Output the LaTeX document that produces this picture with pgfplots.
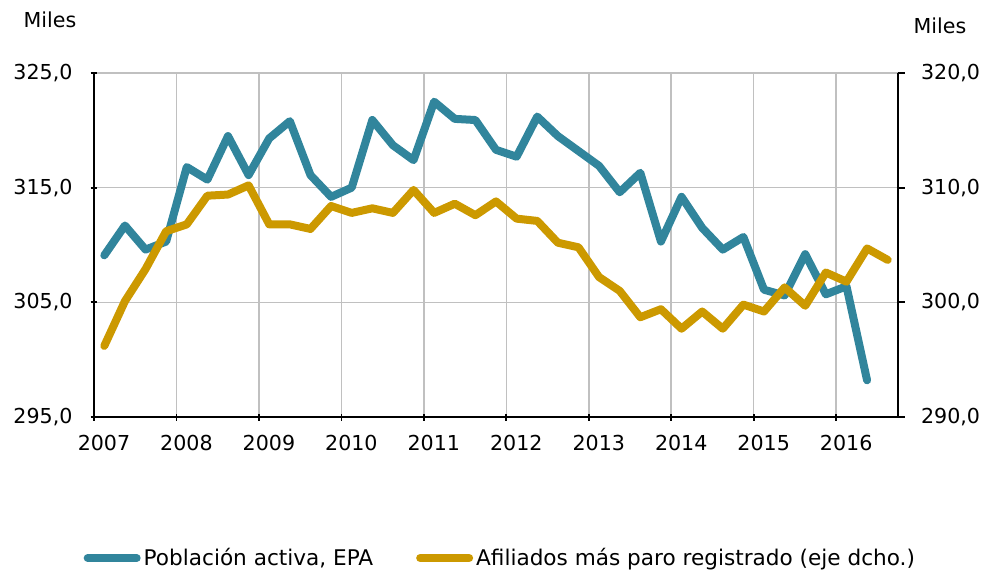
\documentclass[border=0pt]{standalone}
\usepackage{fontspec}
\setmainfont{DejaVu Sans}
\usepackage{pgfplots}
\pgfplotsset{compat=1.18}
\definecolor{cblue}{HTML}{31859C}
\definecolor{cgold}{HTML}{CC9900}
\definecolor{cgrid}{HTML}{C0C0C0}
\newcommand{\fs}{\fontsize{10.3}{12}\selectfont}
\newcommand{\fl}{\fontsize{10.8}{12}\selectfont}
\begin{document}
\begin{tikzpicture}
\pgfplotsset{
  common/.style={
    scale only axis, width=402pt, height=172pt,
    xmin=2007, xmax=2016.75,
    tick align=outside, major tick length=3.5pt,
    tick style={black, line width=0.85pt},
    /pgf/number format/assume math mode=true,
    ticklabel style={font=\fs},
    yticklabel style={/pgf/number format/fixed, /pgf/number format/fixed zerofill,
      /pgf/number format/precision=1, /pgf/number format/use comma},
    every axis plot/.append style={line width=4pt, line join=round, line cap=round},
  }
}
\begin{axis}[common, name=a,
  ymin=295, ymax=325,
  axis x line=bottom, axis y line=left,
  axis line style={-, black, line width=0.85pt},
  x axis line style={-}, y axis line style={-},
  xtick={2007,2008,2009,2010,2011,2012,2013,2014,2015,2016},
  xticklabels={2007,2008,2009,2010,2011,2012,2013,2014,2015,2016},
  xticklabel style={xshift=5pt},
  xticklabel shift=4pt,
  yticklabel shift=5.5pt,
  ytick={295,305,315,325},
  xmajorgrids, ymajorgrids, grid style={cgrid, line width=0.75pt},
  legend columns=2,
  legend style={at={(0.506,-0.41)}, anchor=center, draw=none, fill=none, font=\fl,
    inner sep=0pt, nodes={inner xsep=1.5pt},
    /tikz/every even column/.append style={column sep=20pt}},
  legend image code/.code={\draw[#1] (2pt,0pt) -- (26.5pt,0pt);},
]
\addplot[cblue] coordinates {
(2007.125,309.1) (2007.375,311.7) (2007.625,309.6) (2007.875,310.3)
(2008.125,316.8) (2008.375,315.7) (2008.625,319.5) (2008.875,316.1)
(2009.125,319.3) (2009.375,320.8) (2009.625,316.1) (2009.875,314.2)
(2010.125,315.0) (2010.375,320.9) (2010.625,318.7) (2010.875,317.4)
(2011.125,322.5) (2011.375,321.0) (2011.625,320.9) (2011.875,318.3)
(2012.125,317.7) (2012.375,321.2) (2012.625,319.5) (2012.875,318.2)
(2013.125,316.9) (2013.375,314.6) (2013.625,316.3) (2013.875,310.3)
(2014.125,314.2) (2014.375,311.5) (2014.625,309.6) (2014.875,310.7)
(2015.125,306.1) (2015.375,305.6) (2015.625,309.2) (2015.875,305.7)
(2016.125,306.4) (2016.375,298.2)
};
\addlegendentry{Población activa, EPA}
\addlegendimage{cgold, line width=4pt, line cap=round}
\addlegendentry{Afiliados más paro registrado (eje dcho.)}
\end{axis}
\begin{axis}[common,
  ymin=290, ymax=320,
  hide x axis,
  axis line style={-, black, line width=0.85pt},
  ytick pos=right, yticklabel pos=right,
  yticklabel style={anchor=west, xshift=4.5pt},
  ytick={290,300,310,320},
]
\addplot[cgold] coordinates {
(2007.125,296.2) (2007.375,300.1) (2007.625,302.9) (2007.875,306.2)
(2008.125,306.8) (2008.375,309.3) (2008.625,309.4) (2008.875,310.2)
(2009.125,306.8) (2009.375,306.8) (2009.625,306.4) (2009.875,308.4)
(2010.125,307.8) (2010.375,308.2) (2010.625,307.8) (2010.875,309.8)
(2011.125,307.8) (2011.375,308.6) (2011.625,307.6) (2011.875,308.8)
(2012.125,307.3) (2012.375,307.1) (2012.625,305.2) (2012.875,304.8)
(2013.125,302.2) (2013.375,301.0) (2013.625,298.7) (2013.875,299.4)
(2014.125,297.7) (2014.375,299.2) (2014.625,297.7) (2014.875,299.8)
(2015.125,299.2) (2015.375,301.3) (2015.625,299.7) (2015.875,302.6)
(2016.125,301.8) (2016.375,304.7) (2016.625,303.7)
};
\end{axis}
\node[anchor=base, font=\fs] at ([shift={(-22pt,23pt)}]a.north west) {Miles};
\node[anchor=base, font=\fs] at ([shift={(21pt,20pt)}]a.north east) {Miles};
\pgfresetboundingbox
\path ([shift={(-47pt,-80.5pt)}]a.south west) rectangle ([shift={(44pt,36.5pt)}]a.north east);
\end{tikzpicture}
\end{document}
